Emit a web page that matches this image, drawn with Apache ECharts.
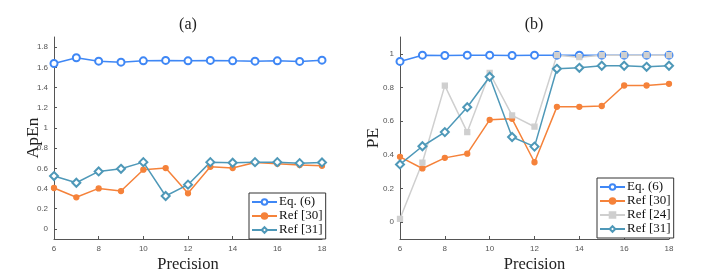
<!DOCTYPE html>
<html>
<head>
<meta charset="utf-8">
<script src="https://cdn.jsdelivr.net/npm/echarts@6/dist/echarts.min.js"></script>
<style>html,body{margin:0;padding:0;background:#fff}#c{width:710px;height:278px}</style>
</head>
<body>
<div id="c"></div>
<script>
var precision = [6,7,8,9,10,11,12,13,14,15,16,17,18];
// (a) ApEn
var apenEq6  = [1.638,1.694,1.661,1.651,1.664,1.668,1.664,1.668,1.664,1.661,1.664,1.658,1.671];
var apenRef30 = [0.405,0.313,0.401,0.375,0.586,0.602,0.352,0.615,0.602,0.658,0.645,0.632,0.625];
var apenRef31 = [0.523,0.457,0.569,0.595,0.661,0.326,0.438,0.661,0.655,0.661,0.661,0.651,0.658];
// (b) PE
var peEq6  = [0.955,0.992,0.990,0.992,0.992,0.990,0.992,0.992,0.992,0.992,0.992,0.992,0.992];
var peRef30 = [0.388,0.319,0.382,0.407,0.608,0.614,0.356,0.685,0.685,0.690,0.812,0.812,0.822];
var peRef24 = [0.020,0.354,0.811,0.535,0.886,0.634,0.567,0.992,0.980,0.992,0.992,0.992,0.992];
var peRef31 = [0.343,0.451,0.535,0.683,0.864,0.506,0.449,0.911,0.917,0.929,0.929,0.923,0.929];
var apenTicks = [0,0.2,0.4,0.6,0.8,1,1.2,1.4,1.6,1.8];
var peTicks = [0,0.2,0.4,0.6,0.8,1];

function pairs(ys){ return precision.map(function(x,i){ return [x, ys[i]]; }); }

var C_EQ6 = '#3f87f5', C_R30 = '#f5823a', C_R24 = '#cfcfcf', C_R31 = '#4e98b8';
var serif = '"Liberation Serif","Times New Roman",serif';
var sans = '"Liberation Sans",Arial,sans-serif';

function xAxis(gi){
  return {
    type:'value', gridIndex:gi, min:6, max:18, interval:2,
    name:'Precision', nameLocation:'middle', nameGap:17, nameMoveOverlap:false,
    nameTextStyle:{fontFamily:serif, fontSize:16.5, color:'#222', verticalAlign:'top'},
    axisLine:{onZero:false, lineStyle:{color:'#555', width:1}},
    axisTick:{inside:true, length:3, lineStyle:{color:'#555'}},
    axisLabel:{color:'#555', fontSize:8, fontFamily:sans, margin:6},
    splitLine:{show:false}
  };
}
function yAxis(gi, name, min, max, ticks, gap){
  return {
    type:'value', gridIndex:gi, min:min, max:max,
    name:name, nameLocation:'middle', nameGap:gap, nameMoveOverlap:false,
    nameTextStyle:{fontFamily:serif, fontSize:17.5, color:'#222'},
    axisLine:{show:true, onZero:false, lineStyle:{color:'#555', width:1}},
    axisTick:{show:true, inside:true, length:3, customValues:ticks, lineStyle:{color:'#555'}},
    axisLabel:{color:'#555', fontSize:8, fontFamily:sans, margin:6, customValues:ticks},
    splitLine:{show:false}
  };
}
function ser(name, gi, ys, color, symbol, size){
  return {
    name:name, type:'line', xAxisIndex:gi, yAxisIndex:gi, data:pairs(ys),
    symbol:symbol, symbolSize:size, showSymbol:true,
    lineStyle:{color:color, width:1.5},
    itemStyle:{color:color, borderColor:color, borderWidth:1.3},
    emphasis:{disabled:true}, animation:false
  };
}
function legend(left, top, names){
  return {
    orient:'vertical', left:left, top:top, data:names,
    backgroundColor:'#fff', borderColor:'#333', borderWidth:1,
    padding:[2,3,2,2], itemGap:0, itemWidth:25, itemHeight:7,
    textStyle:{fontFamily:serif, fontSize:13, lineHeight:14, color:'#111', padding:[0,0,0,-3]},
    selectedMode:false
  };
}

var chart = echarts.init(document.getElementById('c'), null, {renderer:'canvas'});
chart.setOption({
  animation:false,
  backgroundColor:'#fff',
  grid:[
    {left:54, top:37, width:268, height:202, outerBoundsMode:'none', containLabel:false},
    {left:400, top:37, width:269, height:202, outerBoundsMode:'none', containLabel:false}
  ],
  xAxis:[xAxis(0), xAxis(1)],
  yAxis:[yAxis(0,'ApEn',-0.1,1.9,apenTicks,12), yAxis(1,'PE',-0.1,1.1,peTicks,18)],
  legend:[
    legend(249, 193, ['Eq. (6)','Ref [30]','Ref [31]']),
    legend(597, 178, ['Eq. (6)','Ref [30]','Ref [24]','Ref [31]'])
  ],
  graphic:[
    {type:'text', x:188, y:25, style:{text:'(a)', font:'16px '+serif, fill:'#222', textAlign:'center', textVerticalAlign:'middle'}},
    {type:'text', x:534, y:25, style:{text:'(b)', font:'16px '+serif, fill:'#222', textAlign:'center', textVerticalAlign:'middle'}}
  ],
  series:[
    ser('Eq. (6)',0,apenEq6,C_EQ6,'emptyCircle',7),
    ser('Ref [30]',0,apenRef30,C_R30,'circle',5),
    ser('Ref [31]',0,apenRef31,C_R31,'emptyDiamond',8),
    ser('Eq. (6)',1,peEq6,C_EQ6,'emptyCircle',7),
    ser('Ref [30]',1,peRef30,C_R30,'circle',5),
    ser('Ref [24]',1,peRef24,C_R24,'rect',5),
    ser('Ref [31]',1,peRef31,C_R31,'emptyDiamond',8)
  ]
});
</script>
</body>
</html>
